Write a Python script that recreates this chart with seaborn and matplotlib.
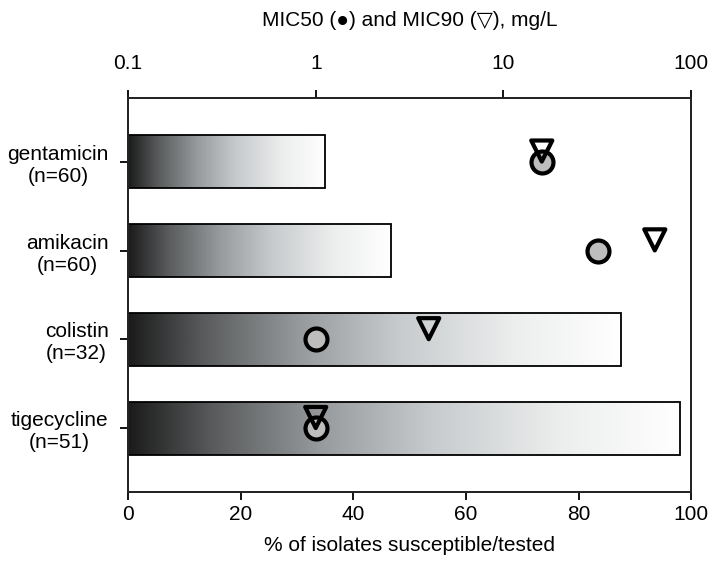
import numpy as np
import pandas as pd
import matplotlib
matplotlib.use("Agg")
import matplotlib.pyplot as plt
import seaborn as sns
from matplotlib.colors import LinearSegmentedColormap

# =============================================================================
# Data
# =============================================================================
drugs = ['gentamicin', 'amikacin', 'colistin', 'tigecycline']
n_tested = [60, 60, 32, 51]
n_susceptible = [21, 28, 28, 50]
mic50 = [16, 32, 1, 1]      # mg/L
mic90 = [16, 64, 4, 1]      # mg/L
mic_ticks = [0.1, 1, 10, 100]
pct_ticks = [0, 20, 40, 60, 80, 100]

labels = [f"{d}\n(n={n})" for d, n in zip(drugs, n_tested)]
pct = [s / n * 100 for s, n in zip(n_susceptible, n_tested)]
df = pd.DataFrame({'label': labels, 'pct': pct, 'mic50': mic50, 'mic90': mic90})

# =============================================================================
# Style
# =============================================================================
sns.set_style("ticks")
plt.rcParams['font.family'] = ['Liberation Sans', 'DejaVu Sans']
plt.rcParams['axes.linewidth'] = 1.4
plt.rcParams['text.color'] = 'black'
plt.rcParams['axes.labelcolor'] = 'black'
plt.rcParams['xtick.color'] = 'black'
plt.rcParams['ytick.color'] = 'black'

FS = 15

fig = plt.figure(figsize=(7.23, 5.65), dpi=100)
ax = fig.add_axes([0.177, 0.129, 0.779, 0.698])

# Bars (seaborn), filled afterwards with a horizontal gradient
sns.barplot(data=df, x='pct', y='label', orient='h', width=0.6,
            facecolor='none', edgecolor='black', linewidth=1.3, ax=ax)

cmap = LinearSegmentedColormap.from_list(
    'grad', [(0.0, '#1b1b1b'), (0.15, '#585a5b'), (0.35, '#979b9d'),
             (0.55, '#c7cbcd'), (0.78, '#eceded'), (1.0, '#ffffff')])
grad = np.linspace(0, 1, 256).reshape(1, -1)
for patch in ax.patches:
    x0, y0 = patch.get_x(), patch.get_y()
    w, h = patch.get_width(), patch.get_height()
    im = ax.imshow(grad, cmap=cmap, extent=[x0, x0 + w, y0 + h, y0],
                   aspect='auto', zorder=0.9, interpolation='bicubic')
    im.set_clip_path(patch)
    patch.set_zorder(1.5)

ax.set_xlim(0, 100)
ax.set_ylim(3.72, -0.72)
ax.set_xticks(pct_ticks)
ax.set_xticklabels([str(t) for t in pct_ticks])
ax.set_xlabel('% of isolates susceptible/tested', fontsize=FS, labelpad=9)
ax.set_ylabel('')
ax.tick_params(axis='x', length=6, width=1.3, labelsize=FS, pad=3)
ax.tick_params(axis='y', length=6, width=1.3, labelsize=FS, pad=8)
for t in ax.get_yticklabels():
    t.set_multialignment('center')
for s in ax.spines.values():
    s.set_visible(True)
    s.set_color('black')

# MIC markers on a log-scaled top axis
ax2 = ax.twiny()
ax2.set_xscale('log')
ypos = np.arange(len(drugs), dtype=float)
sns.scatterplot(x=df['mic50'].to_numpy(), y=ypos, marker='o', s=250,
                facecolor='#bdbdbd', edgecolor='black', linewidth=3,
                ax=ax2, zorder=3)
sns.scatterplot(x=df['mic90'].to_numpy(), y=ypos - 0.12, marker='v', s=230,
                facecolor='none', edgecolor='black', linewidth=3,
                ax=ax2, zorder=4)
ax2.set_xlim(0.1, 100)
ax2.set_ylim(3.72, -0.72)
ax2.set_xticks(mic_ticks)
ax2.set_xticklabels(['0.1', '1', '10', '100'])
ax2.xaxis.set_minor_locator(matplotlib.ticker.NullLocator())
ax2.tick_params(axis='x', length=6, width=1.3, labelsize=FS, pad=12)
ax2.set_xlabel('MIC50 (\u25CF) and MIC90 (\u25BD), mg/L', fontsize=FS, labelpad=20)

fig.savefig('out.png', dpi=100)
